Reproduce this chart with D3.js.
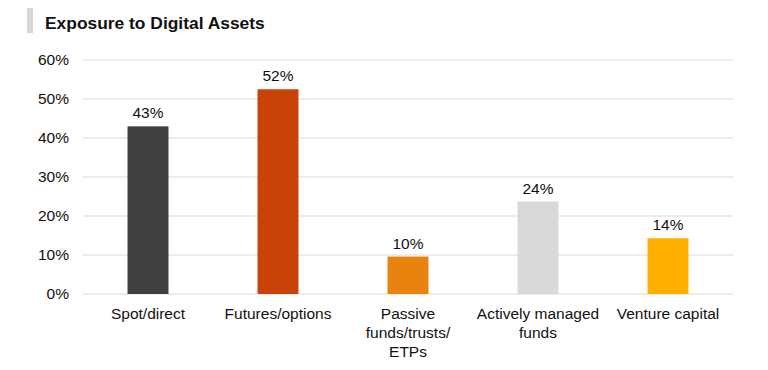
<!DOCTYPE html>
<html>
<head>
<meta charset="utf-8">
<script src="https://cdn.jsdelivr.net/npm/d3@7"></script>
<style>
  body { margin: 0; background: #fff; }
  svg { font-family: "Liberation Sans", Arial, Helvetica, sans-serif; }
</style>
</head>
<body>
<svg width="768" height="370"></svg>
<script>
const categories = [
  ["Spot/direct"],
  ["Futures/options"],
  ["Passive", "funds/trusts/", "ETPs"],
  ["Actively managed", "funds"],
  ["Venture capital"],
];
const values = [43, 52.5, 9.6, 23.7, 14.3];
const valueLabels = ["43%", "52%", "10%", "24%", "14%"];
const barColors = ["#404040", "#c94208", "#e8830e", "#d9d9d9", "#ffb000"];
const yTicks = [0, 10, 20, 30, 40, 50, 60];

const svg = d3.select("svg");
const margin = { top: 60, right: 35, bottom: 76, left: 83 };
const width = 768 - margin.left - margin.right;
const height = 370 - margin.top - margin.bottom;
const fontSize = 15.5;

// Title with the grey marker
svg.append("rect")
  .attr("x", 27).attr("y", 8)
  .attr("width", 6).attr("height", 25)
  .attr("fill", "#d6d6d6");
svg.append("text")
  .attr("x", 45).attr("y", 29)
  .attr("font-size", 17.4)
  .attr("font-weight", "bold")
  .attr("fill", "#111")
  .text("Exposure to Digital Assets");

const g = svg.append("g")
  .attr("transform", "translate(" + margin.left + "," + margin.top + ")");

const x = d3.scaleBand()
  .domain(d3.range(categories.length))
  .range([0, width])
  .paddingInner(0.685)
  .paddingOuter(0.3425);

const y = d3.scaleLinear().domain([0, 60]).range([height, 0]);

// Gridlines
g.selectAll(".grid")
  .data(yTicks)
  .enter()
  .append("line")
  .attr("x1", 0).attr("x2", width)
  .attr("y1", (d) => y(d)).attr("y2", (d) => y(d))
  .attr("stroke", "#d9d9d9")
  .attr("stroke-width", 1);

// Y axis labels
const yAxis = g.append("g")
  .call(d3.axisLeft(y).tickValues(yTicks).tickFormat((d) => d + "%").tickSize(0).tickPadding(14));
yAxis.select(".domain").remove();
yAxis.selectAll("text")
  .attr("font-size", fontSize)
  .attr("fill", "#111")
  .attr("font-family", null);

// Bars
g.selectAll(".bar")
  .data(values)
  .enter()
  .append("rect")
  .attr("x", (d, i) => x(i))
  .attr("y", (d) => y(d))
  .attr("width", x.bandwidth())
  .attr("height", (d) => height - y(d))
  .attr("fill", (d, i) => barColors[i]);

// Value labels
g.selectAll(".val")
  .data(values)
  .enter()
  .append("text")
  .attr("x", (d, i) => x(i) + x.bandwidth() / 2)
  .attr("y", (d) => y(d) - 8)
  .attr("text-anchor", "middle")
  .attr("font-size", fontSize)
  .attr("fill", "#111")
  .text((d, i) => valueLabels[i]);

// Category labels
const cat = g.selectAll(".cat")
  .data(categories)
  .enter()
  .append("text")
  .attr("text-anchor", "middle")
  .attr("font-size", fontSize)
  .attr("fill", "#111")
  .attr("transform", (d, i) => "translate(" + (x(i) + x.bandwidth() / 2) + "," + (height + 25) + ")");
cat.selectAll("tspan")
  .data((d) => d)
  .enter()
  .append("tspan")
  .attr("x", 0)
  .attr("dy", (d, i) => (i === 0 ? 0 : 19))
  .text((d) => d);
</script>
</body>
</html>
